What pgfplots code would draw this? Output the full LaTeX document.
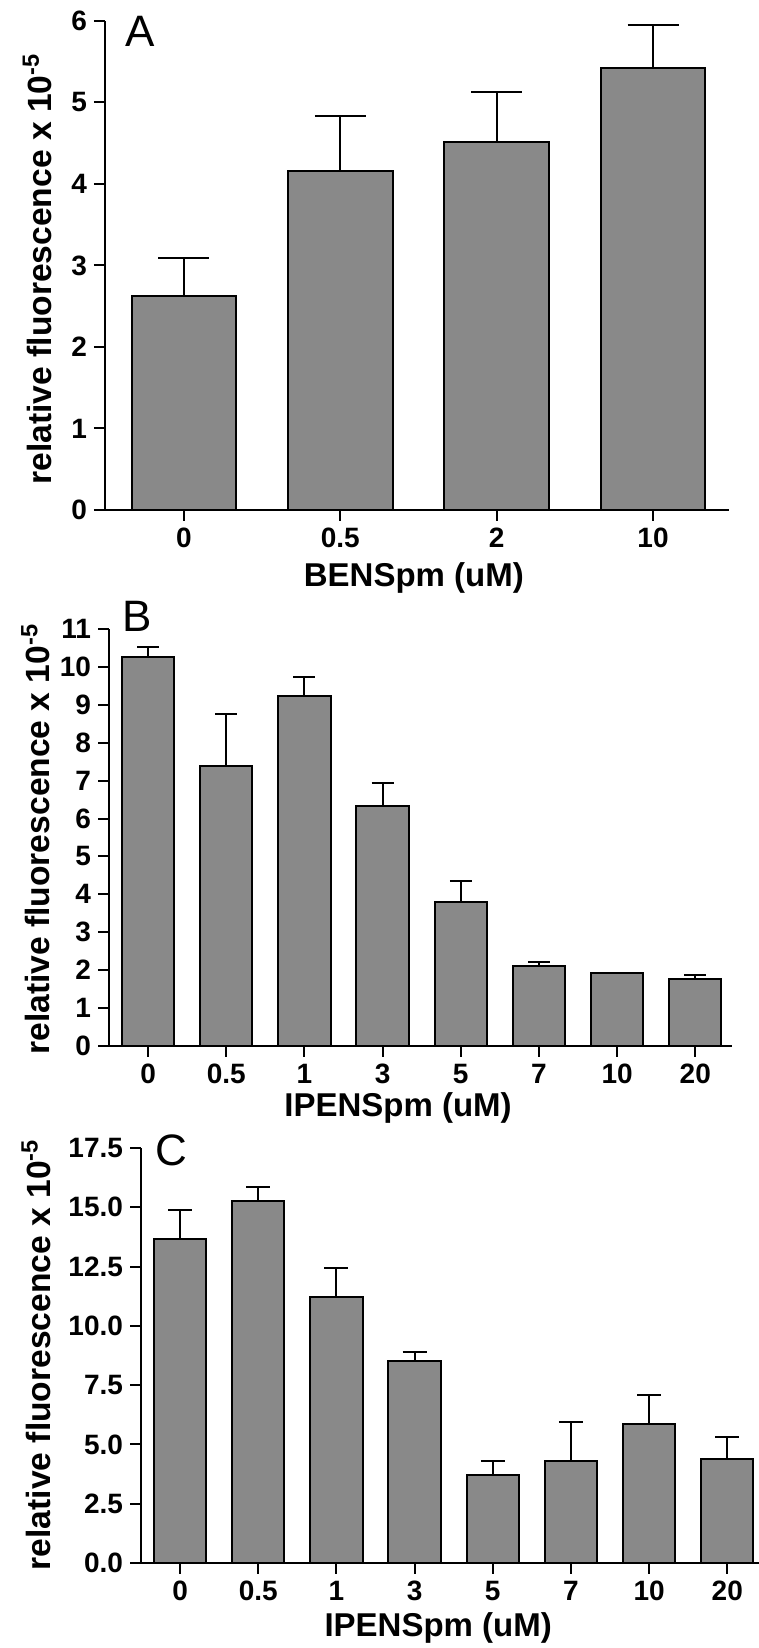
\documentclass[border=0pt]{standalone}
\usepackage{fontspec}
\setmainfont{Liberation Sans}
\usepackage{pgfplots}
\pgfplotsset{compat=1.18}
\definecolor{barfill}{RGB}{137,137,137}
% one px of the reference = 0.5pt
\pgfplotsset{
  panel/.style={
    scale only axis,
    anchor=south west,
    clip=false,
    axis lines=left,
    axis line style={-, line width=1pt},
    tick align=outside,
    major tick length=5.5pt,
    every tick/.style={black, line width=1pt},
    ymin=0,
    xtick=data,
    /pgf/number format/assume math mode=true,
    ticklabel style={font=\bfseries\fontsize{14}{14}\selectfont},
    ylabel={relative fluorescence x 10\textsuperscript{-5}},
    ylabel style={font=\bfseries\fontsize{16.8}{16.8}\selectfont},
    xlabel style={font=\bfseries\fontsize{16.5}{16.5}\selectfont},
  },
  bars/.style={
    ybar, bar width=0.67, fill=barfill, draw=black, line width=1pt,
    error bars/.cd, y dir=plus, y explicit,
    error bar style={line width=1pt, black},
    error mark options={rotate=90, line width=1pt, black, mark size=#1},
  },
}
\tikzset{letter/.style={anchor=base west, inner sep=0pt, font=\fontsize{22}{22}\selectfont}}
\begin{document}
\begin{tikzpicture}
\useasboundingbox (0,0) rectangle (379.5pt,824pt);

% A
\begin{axis}[panel,
  at={(52.5pt,569pt)}, width=312pt, height=244.5pt,
  xmin=-0.505, xmax=3.486, ymax=6, ytick={0,...,6},
  xticklabels={0,0.5,2,10},
  xlabel={BENSpm (uM)},
  xlabel style={at={(axis description cs:0.495,-0.157)}, anchor=base},
  ylabel style={at={(axis description cs:-0.086,0.493)}, anchor=base},
]
\addplot[bars=12.75pt] coordinates {
  (0,2.63) +- (0,0.46)
  (1,4.16) +- (0,0.67)
  (2,4.52) +- (0,0.61)
  (3,5.42) +- (0,0.53)
};
\node[letter] at (axis description cs:0.032,0.947) {A};
\end{axis}

% B
\begin{axis}[panel,
  at={(54.5pt,301pt)}, width=311.5pt, height=208.5pt,
  xmin=-0.5, xmax=7.47, ymax=11, ytick={0,...,11},
  xticklabels={0,0.5,1,3,5,7,10,20},
  xlabel={IPENSpm (uM)},
  xlabel style={at={(axis description cs:0.464,-0.168)}, anchor=base},
  ylabel style={at={(axis description cs:-0.095,0.496)}, anchor=base},
]
\addplot[bars=5.5pt] coordinates {
  (0,10.25) +- (0,0.27)
  (1,7.38)  +- (0,1.37)
  (2,9.24)  +- (0,0.50)
  (3,6.33)  +- (0,0.60)
  (4,3.80)  +- (0,0.54)
  (5,2.11)  +- (0,0.11)
  (6,1.93)  +- (0,0)
  (7,1.77)  +- (0,0.11)
};
\node[letter] at (axis description cs:0.021,0.993) {B};
\end{axis}

% C
\begin{axis}[panel,
  at={(70.5pt,42.5pt)}, width=311.5pt, height=207.5pt,
  xmin=-0.5, xmax=7.47, ymax=17.5, ytick={0,2.5,...,17.5},
  yticklabel style={/pgf/number format/.cd, fixed, fixed zerofill, precision=1},
  xticklabels={0,0.5,1,3,5,7,10,20},
  xlabel={IPENSpm (uM)},
  xlabel style={at={(axis description cs:0.477,-0.176)}, anchor=base},
  ylabel style={at={(axis description cs:-0.146,0.502)}, anchor=base},
]
\addplot[bars=6pt] coordinates {
  (0,13.67) +- (0,1.23)
  (1,15.25) +- (0,0.60)
  (2,11.23) +- (0,1.22)
  (3,8.51)  +- (0,0.40)
  (4,3.69)  +- (0,0.60)
  (5,4.30)  +- (0,1.65)
  (6,5.87)  +- (0,1.22)
  (7,4.38)  +- (0,0.95)
};
\node[letter] at (axis description cs:0.022,0.959) {C};
\end{axis}
\end{tikzpicture}
\end{document}
